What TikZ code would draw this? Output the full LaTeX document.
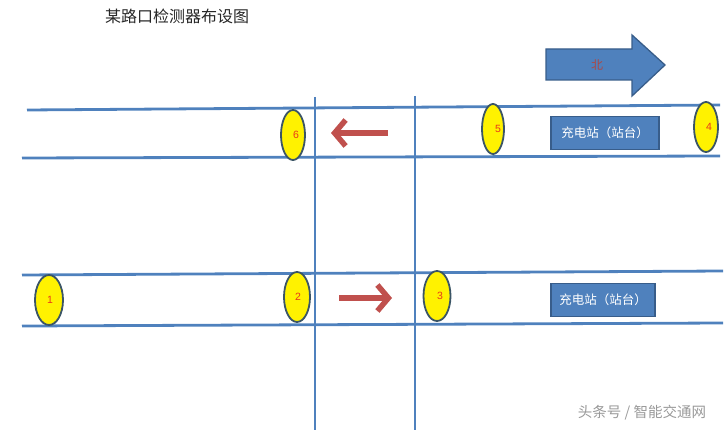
\documentclass[tikz,border=0pt]{standalone}
\usepackage{fontspec}
\setmainfont{Liberation Sans}
\newfontfamily\cjk{Noto Sans CJK SC}
\usetikzlibrary{arrows.meta,shapes.geometric}
\definecolor{roadblue}{HTML}{4F81BD}
\definecolor{boxedge}{HTML}{385D8A}
\definecolor{arrowred}{HTML}{C0504D}
\definecolor{detedge}{HTML}{3B5566}
\definecolor{numred}{HTML}{E8381A}

\begin{document}
\begin{tikzpicture}[x=1pt,y=-1pt,
  road/.style={roadblue,line width=2.8pt},
  detector/.style={ellipse,draw=detedge,line width=1.8pt,fill=yellow,inner sep=0pt},
  station/.style={draw=boxedge,line width=1.6pt,fill=roadblue,text=white,font=\cjk\fontsize{12.5}{13}\selectfont,
    minimum height=33pt,inner sep=0pt},
  flow/.style={arrowred,line width=5.5pt,-{Straight Barb[length=11pt,width=26pt]}}]
  \useasboundingbox (0,0) rectangle (725,430);
  % title and north sign
  \node[text=black!85,font=\cjk\fontsize{16}{17}\selectfont] (title) at (177,16) {某路口检测器布设图};
  \draw[boxedge,line width=1.3pt,fill=roadblue] (546,49) -- (632,49) -- (632,35) -- (665,65) -- (632,96) -- (632,80) -- (546,80) -- cycle;
  \node[text=arrowred!90!black,font=\cjk\fontsize{12}{13}\selectfont] (north) at (597,65) {北};
  % roads
  \draw[road] (27,110) -- (720,105);
  \draw[road] (22,158) -- (720,156);
  \draw[road] (22,275) -- (723,271);
  \draw[road] (22,326) -- (723,323);
  \draw[road] (315,97) -- (315,430);
  \draw[road] (415,96) -- (415,430);
  % detectors
  \foreach \n/\x/\y/\w/\dx in {6/293/135/24/3,5/493/129/22/5,4/706/127/24/3,1/49/300/28/1,2/297/297/26/1,3/437/296/27/3}
  {
    \node[detector,minimum width=\w pt,minimum height=50pt,
      label={[xshift=\dx pt,text=numred,font=\fontsize{10.5}{11}\selectfont]center:\n}] (d\n) at (\x,\y) {};
  }
  % charging stations
  \node[station,minimum width=108pt] (stop1) at (605,133) {充电站（站台）};
  \node[station,minimum width=104pt] (stop2) at (603,300) {充电站（站台）};
  % traffic direction
  \coordinate (w1) at (388,133);
  \coordinate (w2) at (331,133);
  \coordinate (e1) at (339,298);
  \coordinate (e2) at (392,298);
  \draw[flow] (w1) -- (w2);
  \draw[flow] (e1) -- (e2);
  \node[text=black!40,font=\cjk\fontsize{14.5}{15}\selectfont] (mark) at (642,413) {头条号 / 智能交通网};
\end{tikzpicture}
\end{document}
